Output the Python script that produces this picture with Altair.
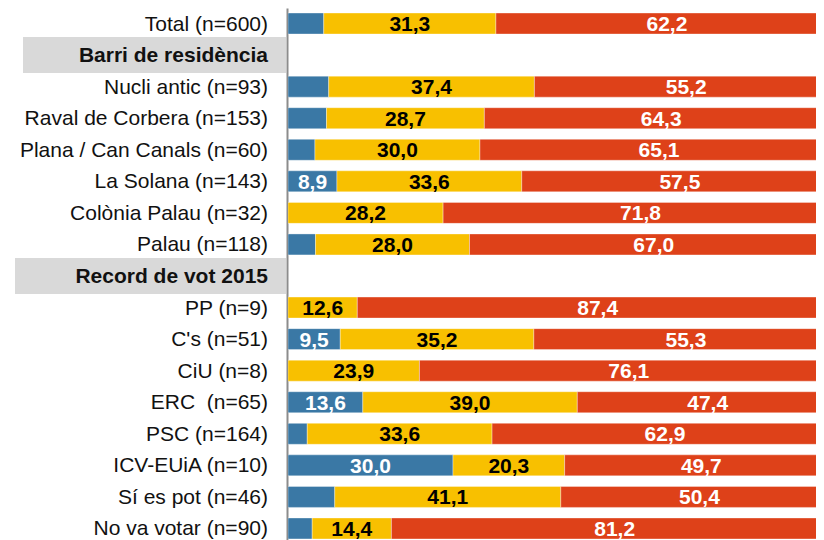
import altair as alt
import pandas as pd

# ---- data ----
categories = [
    "Total (n=600)",
    "Barri de residència",
    "Nucli antic (n=93)",
    "Raval de Corbera (n=153)",
    "Plana / Can Canals (n=60)",
    "La Solana (n=143)",
    "Colònia Palau (n=32)",
    "Palau (n=118)",
    "Record de vot 2015",
    "PP (n=9)",
    "C's (n=51)",
    "CiU (n=8)",
    "ERC\u00a0 (n=65)",
    "PSC (n=164)",
    "ICV-EUiA (n=10)",
    "Sí es pot (n=46)",
    "No va votar (n=90)",
]
headers = ["Barri de residència", "Record de vot 2015"]

series = ["s1", "s2", "s3"]
blue = [6.5, 7.4, 7.0, 4.9, 8.9, 0.0, 5.0, 0.0, 9.5, 0.0, 13.6, 3.5, 30.0, 8.5, 4.4]
yellow = [31.3, 37.4, 28.7, 30.0, 33.6, 28.2, 28.0, 12.6, 35.2, 23.9, 39.0, 33.6, 20.3, 41.1, 14.4]
red = [62.2, 55.2, 64.3, 65.1, 57.5, 71.8, 67.0, 87.4, 55.3, 76.1, 47.4, 62.9, 49.7, 50.4, 81.2]
colors = ["#3A78A5", "#F8C000", "#DE4119"]

bar_cats = [c for c in categories if c not in headers]
records = []
for i, c in enumerate(bar_cats):
    for j, (s, vals) in enumerate(zip(series, [blue, yellow, red])):
        records.append({"cat": c, "series": s, "order": j, "value": vals[i]})
bars_df = pd.DataFrame(records)
labels_df = pd.DataFrame({"cat": categories, "header": [c in headers for c in categories]})

FONT = "Liberation Sans"

ysc = alt.Scale(domain=categories, paddingInner=0.335, paddingOuter=0.096, align=0.83)
Y = alt.Y("cat:N", scale=ysc, title=None)
# visible part of the 0-100 axis (the full bar runs past the right edge)
xsc = alt.Scale(domain=[0, 96.0], nice=False, zero=True)

base = (
    alt.Chart(bars_df)
    .transform_filter("datum.value > 0")
    .transform_stack(stack="value", groupby=["cat"], as_=["x0", "x1"],
                     sort=[alt.SortField("order")])
    .transform_calculate(
        mid="(datum.x0 + datum.x1) / 2",
        lab="replace(format(datum.value, '.1f'), '.', ',')",
    )
)

bars = base.mark_bar(clip=True, stroke="white", strokeWidth=0.7, strokeOpacity=0.5).encode(
    x=alt.X("x0:Q", scale=xsc, axis=None),
    x2="x1:Q",
    y=Y,
    color=alt.Color("series:N", scale=alt.Scale(domain=series, range=colors), legend=None),
)

values = base.transform_filter("datum.value >= 8.7").mark_text(
    font=FONT, fontSize=21, fontWeight="bold", dy=1.5
).encode(
    x=alt.X("mid:Q", scale=xsc, axis=None),
    y=Y,
    text="lab:N",
    color=alt.condition("datum.series == 's2'", alt.value("black"), alt.value("white")),
)

hdr1 = alt.Chart(labels_df).transform_filter(
    alt.datum.cat == headers[0]
).mark_bar(height=36, color="#D9D9D9").encode(
    x=alt.value(-265), x2=alt.value(-2), y=Y
)
hdr2 = alt.Chart(labels_df).transform_filter(
    alt.datum.cat == headers[1]
).mark_bar(height=36, color="#D9D9D9").encode(
    x=alt.value(-273), x2=alt.value(-2), y=Y
)

cat_labels = alt.Chart(labels_df).transform_filter("!datum.header").mark_text(
    align="right", font=FONT, fontSize=21, dy=1, color="#111111"
).encode(x=alt.value(-20), y=Y, text="cat:N")

hdr_labels = alt.Chart(labels_df).transform_filter("datum.header").mark_text(
    align="right", font=FONT, fontSize=21, fontWeight="bold", dy=1, color="#111111"
).encode(x=alt.value(-20), y=Y, text="cat:N")

chart = (
    alt.layer(hdr1, hdr2, bars, cat_labels, hdr_labels, values)
    .properties(
        width=528,
        height=532,
        autosize=alt.AutoSizeParams(type="none"),
        padding={"left": 280, "top": 0, "right": 0, "bottom": 0},
    )
    .configure_view(stroke=None)
    .configure_axisY(
        labels=False, ticks=False, grid=False, domainColor="#8C8C8C", domainWidth=2, offset=1
    )
)

chart.save("out.html", embed_options={"renderer": "svg", "actions": False})
